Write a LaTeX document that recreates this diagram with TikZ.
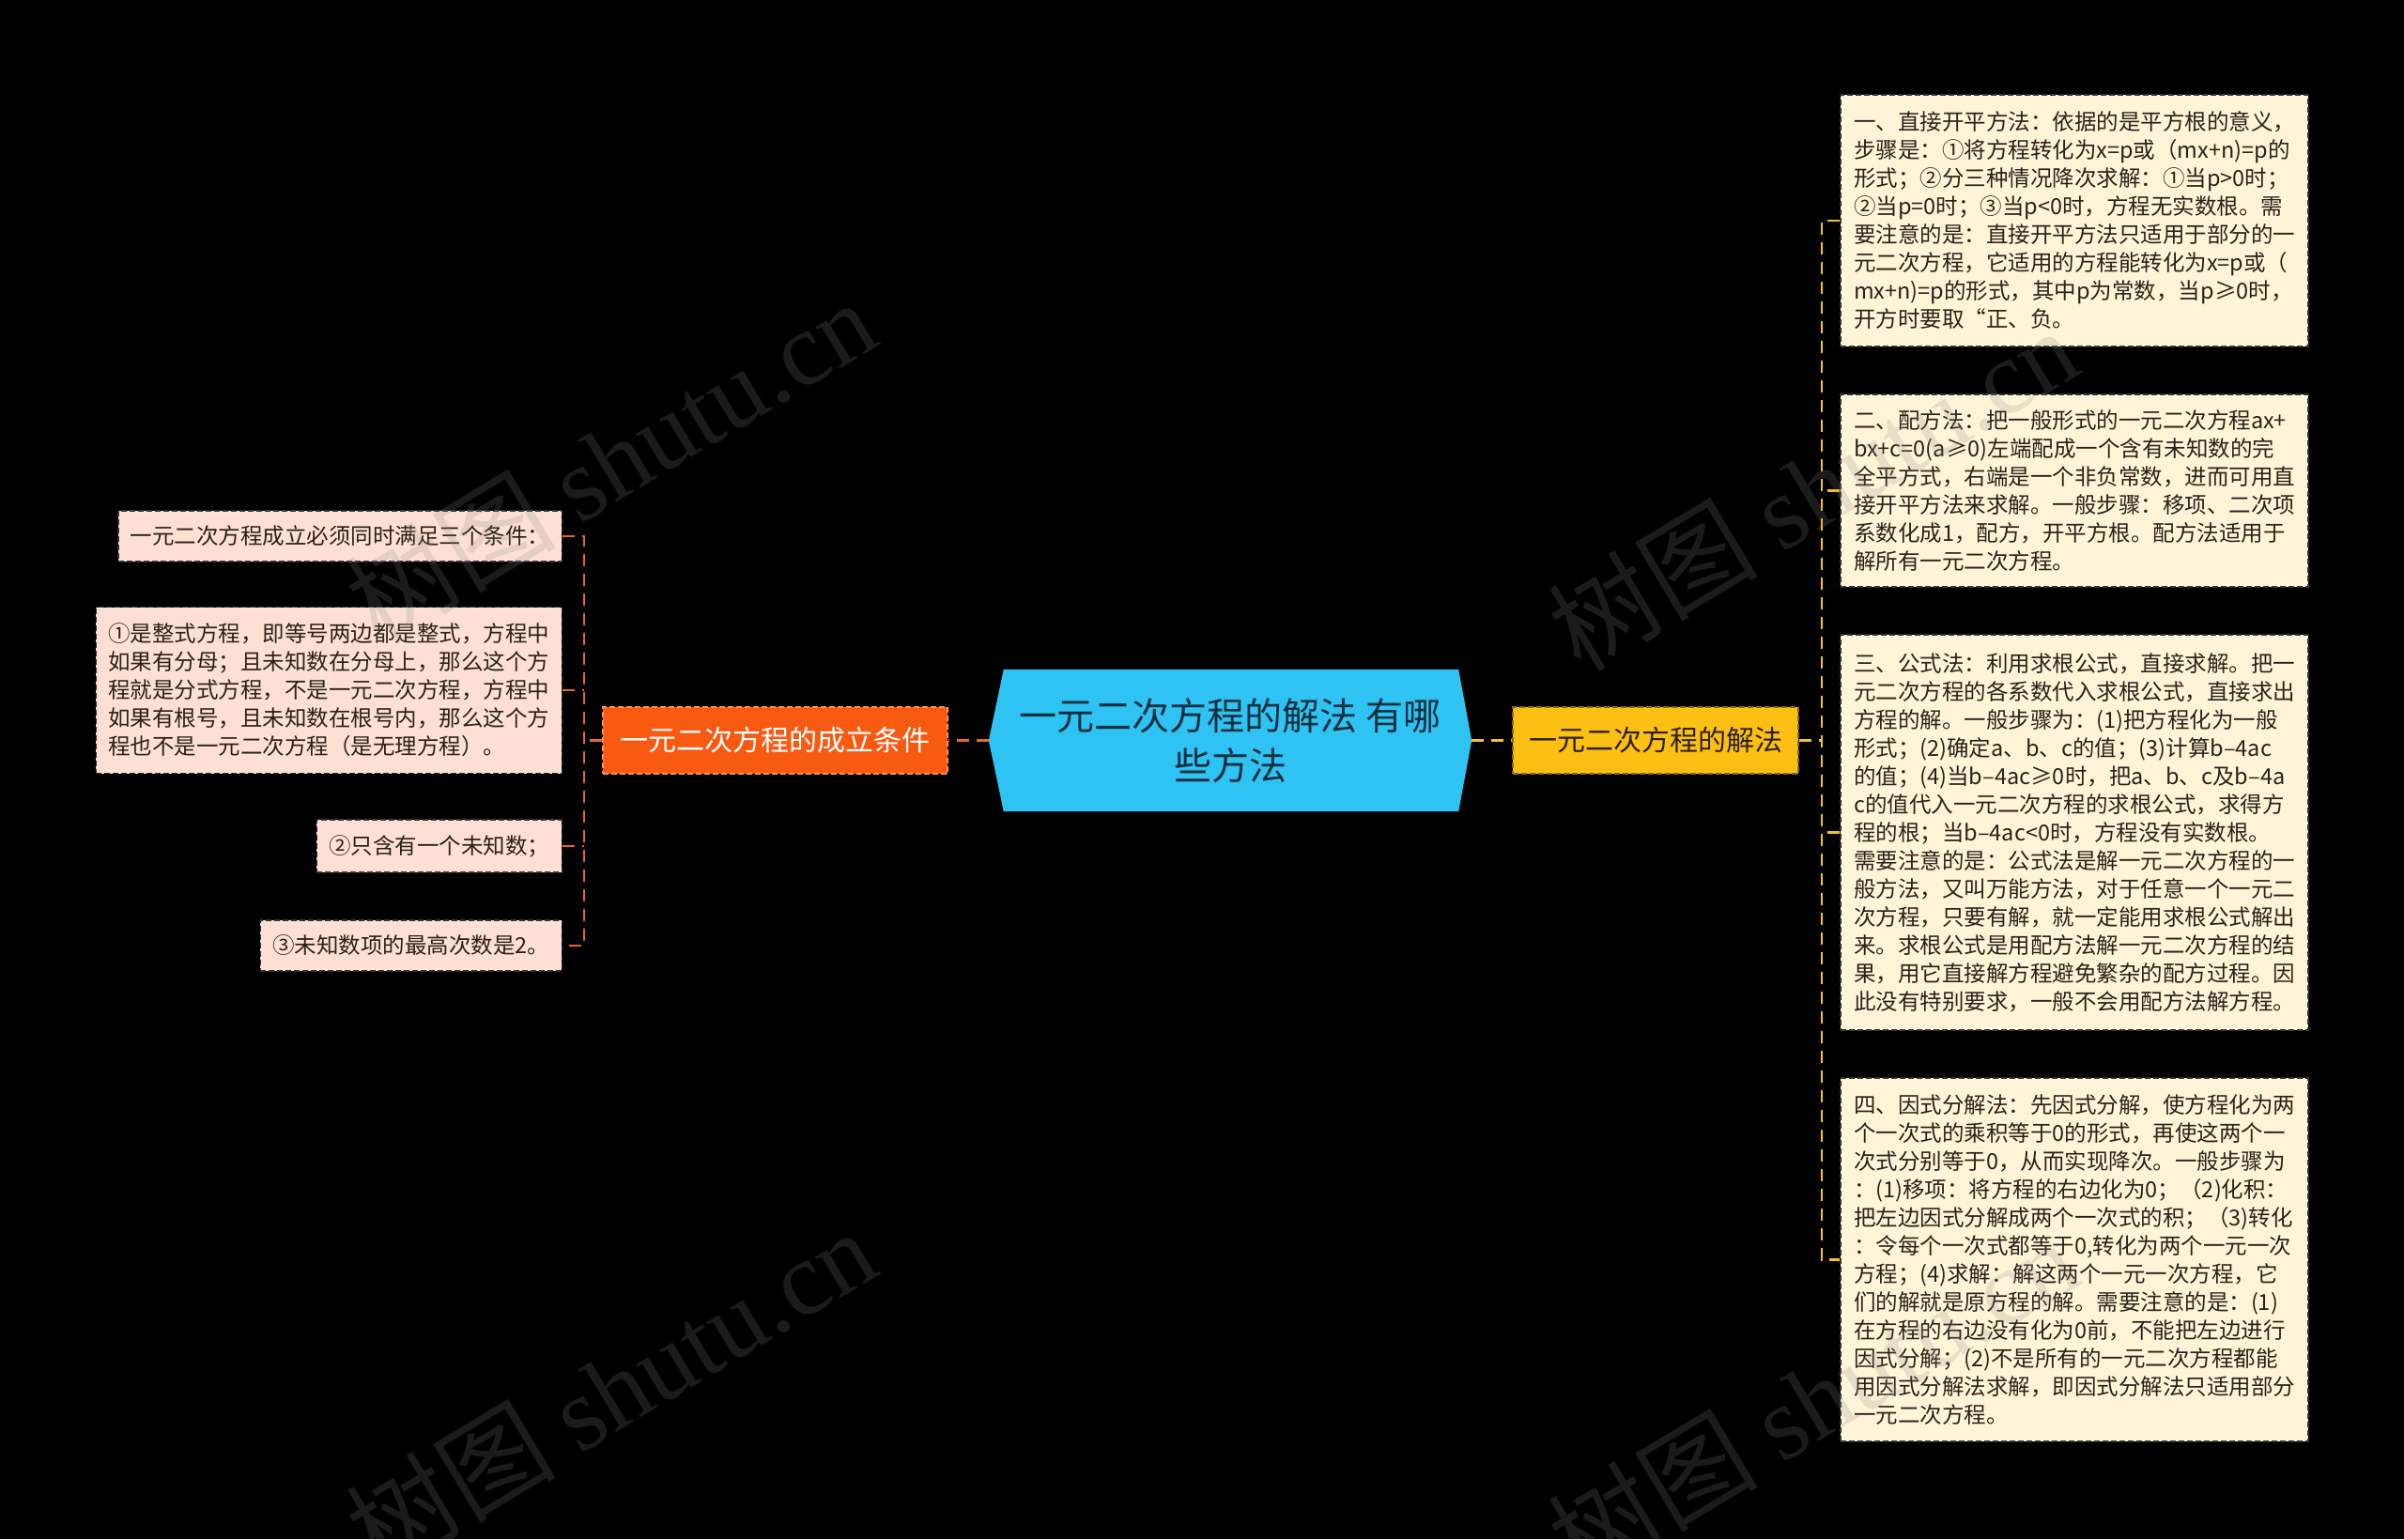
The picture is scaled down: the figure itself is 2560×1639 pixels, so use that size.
\documentclass[tikz,border=0pt]{standalone}
\usepackage{fontspec}
\setmainfont{Noto Sans CJK SC}
\newfontfamily\wmserif{Liberation Serif}
\usetikzlibrary{backgrounds}
\definecolor{hexblue}{HTML}{2EC3F3}
\definecolor{orangenode}{HTML}{F85A12}
\definecolor{orangeborder}{HTML}{FF8F5A}
\definecolor{yellownode}{HTML}{FCBF13}
\definecolor{yellowborder}{HTML}{8A6A10}
\definecolor{peach}{HTML}{FDE0D3}
\definecolor{cream}{HTML}{FEF5D8}
\definecolor{orangeline}{HTML}{E8652C}
\definecolor{yellowline}{HTML}{F6C320}
\definecolor{leaftext}{HTML}{2B2118}
\definecolor{hextext}{HTML}{13303F}
\definecolor{wmgray}{HTML}{888888}
\begin{document}
\begin{tikzpicture}[x=1pt,y=-1pt,
  leafbox/.style={draw=black!80, line width=1.4pt, dash pattern=on 6pt off 3pt,
    text=leaftext, align=left, inner xsep=13pt, inner ysep=12pt,
    font=\fontsize{23.5}{30}\selectfont},
  leftleaf/.style={leafbox, fill=peach, anchor=east},
  rightleaf/.style={leafbox, fill=cream, minimum width=498pt},
  mainbranch/.style={minimum height=71pt, inner sep=0pt, line width=1.4pt,
    dash pattern=on 6pt off 3pt, font=\fontsize{30}{36}\selectfont},
  lconn/.style={draw=orangeline, line width=2.4pt, dash pattern=on 13pt off 8pt},
  rconn/.style={draw=yellowline, line width=2.4pt, dash pattern=on 13pt off 8pt},
  wm/.style={text=wmgray, text opacity=0.2, font=\fontsize{112}{120}\selectfont, rotate=31, inner sep=0pt}
]
\useasboundingbox (0,0) rectangle (2560,1639);

% root
\node[minimum width=514pt, minimum height=151pt, inner sep=0pt, align=center,
      text=hextext, font=\fontsize{40}{53}\selectfont] (root) at (1310,788.5)
  {一元二次方程的解法 有哪\\些方法};

% main branches
\node[mainbranch, fill=orangenode, draw=orangeborder, text=white, minimum width=367pt]
  (cond) at (825.5,788.5) {一元二次方程的成立条件};
\node[mainbranch, fill=yellownode, draw=yellowborder, text=leaftext, minimum width=304pt]
  (meth) at (1763,788.5) {一元二次方程的解法};

% left leaves
\node[leftleaf, minimum height=54pt] (la) at (599,571) {一元二次方程成立必须同时满足三个条件：};
\node[leftleaf, minimum height=177pt] (lb) at (599,735)
  {①是整式方程，即等号两边都是整式，方程中\\
   如果有分母；且未知数在分母上，那么这个方\\
   程就是分式方程，不是一元二次方程，方程中\\
   如果有根号，且未知数在根号内，那么这个方\\
   程也不是一元二次方程（是无理方程）。};
\node[leftleaf, minimum height=56pt] (lc) at (599,901) {②只含有一个未知数；};
\node[leftleaf, minimum height=54pt] (ld) at (599,1007) {③未知数项的最高次数是2。};

% right leaves
\node[rightleaf, minimum height=268pt] (ra) at (2209,235)
  {一、直接开平方法：依据的是平方根的意义，\\
   步骤是：①将方程转化为x=p或（mx+n)=p的\\
   形式；②分三种情况降次求解：①当p>0时；\\
   ②当p=0时；③当p<0时，方程无实数根。需\\
   要注意的是：直接开平方法只适用于部分的一\\
   元二次方程，它适用的方程能转化为x=p或（\\
   mx+n)=p的形式，其中p为常数，当p≥0时，\\
   开方时要取“正、负。};
\node[rightleaf, minimum height=205pt] (rb) at (2209,522.5)
  {二、配方法：把一般形式的一元二次方程ax+\\
   bx+c=0(a≥0)左端配成一个含有未知数的完\\
   全平方式，右端是一个非负常数，进而可用直\\
   接开平方法来求解。一般步骤：移项、二次项\\
   系数化成1，配方，开平方根。配方法适用于\\
   解所有一元二次方程。};
\node[rightleaf, minimum height=421pt] (rc) at (2209,886.5)
  {三、公式法：利用求根公式，直接求解。把一\\
   元二次方程的各系数代入求根公式，直接求出\\
   方程的解。一般步骤为：(1)把方程化为一般\\
   形式；(2)确定a、b、c的值；(3)计算b–4ac\\
   的值；(4)当b–4ac≥0时，把a、b、c及b–4a\\
   c的值代入一元二次方程的求根公式，求得方\\
   程的根；当b–4ac<0时，方程没有实数根。\\
   需要注意的是：公式法是解一元二次方程的一\\
   般方法，又叫万能方法，对于任意一个一元二\\
   次方程，只要有解，就一定能用求根公式解出\\
   来。求根公式是用配方法解一元二次方程的结\\
   果，用它直接解方程避免繁杂的配方过程。因\\
   此没有特别要求，一般不会用配方法解方程。};
\node[rightleaf, minimum height=387pt] (rd) at (2209,1341.5)
  {四、因式分解法：先因式分解，使方程化为两\\
   个一次式的乘积等于0的形式，再使这两个一\\
   次式分别等于0，从而实现降次。一般步骤为\\
   ：(1)移项：将方程的右边化为0；（2)化积：\\
   把左边因式分解成两个一次式的积；（3)转化\\
   ：令每个一次式都等于0,转化为两个一元一次\\
   方程；(4)求解：解这两个一元一次方程，它\\
   们的解就是原方程的解。需要注意的是：(1)\\
   在方程的右边没有化为0前，不能把左边进行\\
   因式分解；(2)不是所有的一元二次方程都能\\
   用因式分解法求解，即因式分解法只适用部分\\
   一元二次方程。};

% background + hexagon
\begin{scope}[on background layer]
  \fill[black] (0,0) rectangle (2560,1639);
  \fill[hexblue] (root.west) -- ([xshift=16pt]root.north west) -- ([xshift=-14pt]root.north east)
    -- (root.east) -- ([xshift=-14pt]root.south east) -- ([xshift=16pt]root.south west) -- cycle;
\end{scope}

% connectors
\coordinate (lbus) at (622,788.5);
\coordinate (rbus) at (1940,788.5);
\draw[lconn] (root.west) -- (cond.east);
\draw[lconn] (cond.west) -- (lbus);
\draw[lconn] (la.east) -- (la.east -| lbus) -- (ld.east -| lbus) -- (ld.east);
\draw[lconn] (lb.east) -- (lb.east -| lbus);
\draw[lconn] (lc.east) -- (lc.east -| lbus);

\draw[rconn] (root.east) -- (meth.west);
\draw[rconn] (meth.east) -- (rbus);
\draw[rconn] (ra.west) -- (ra.west -| rbus) -- (rd.west -| rbus) -- (rd.west);
\draw[rconn] (rb.west) -- (rb.west -| rbus);
\draw[rconn] (rc.west) -- (rc.west -| rbus);

% watermarks
\node[wm] (wm1) at (650,490) {树图 {\wmserif shutu.cn}};
\node[wm] (wm2) at (1930,520) {树图 {\wmserif shutu.cn}};
\node[wm] (wm3) at (650,1480) {树图 {\wmserif shutu.cn}};
\node[wm] (wm4) at (1930,1490) {树图 {\wmserif shutu.cn}};
\end{tikzpicture}
\end{document}
